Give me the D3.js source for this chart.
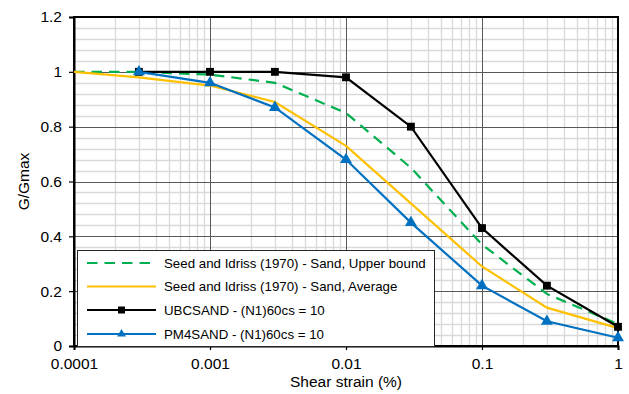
<!DOCTYPE html>
<html>
<head>
<meta charset="utf-8">
<script src="https://cdn.jsdelivr.net/npm/d3@7"></script>
<style>
  html, body { margin: 0; padding: 0; background: #fff; }
  svg { display: block; font-family: "Liberation Sans", Arial, sans-serif; }
</style>
</head>
<body>
<svg id="chart" width="629" height="394"></svg>
<script>
// Shear strain (%) at which each curve is defined
const strainSeed = [0.0001, 0.0003, 0.001, 0.003, 0.01, 0.03, 0.1, 0.3, 1];
const seedUpper = [1, 1, 0.99, 0.96, 0.85, 0.65, 0.37, 0.19, 0.08];
const seedAverage = [1, 0.98, 0.95, 0.89, 0.73, 0.52, 0.29, 0.14, 0.065];

const strainModel = [0.0003, 0.001, 0.003, 0.01, 0.03, 0.1, 0.3, 1];
const ubcsand = [1, 1, 1, 0.98, 0.80, 0.43, 0.22, 0.07];
const pm4sand = [1, 0.96, 0.87, 0.68, 0.45, 0.22, 0.09, 0.03];

const xTicks = [0.0001, 0.001, 0.01, 0.1, 1];
const xTickLabels = ["0.0001", "0.001", "0.01", "0.1", "1"];
const yTicks = [0, 0.2, 0.4, 0.6, 0.8, 1, 1.2];
const yTickLabels = ["0", "0.2", "0.4", "0.6", "0.8", "1", "1.2"];

const seriesNames = [
  "Seed and Idriss (1970) - Sand, Upper bound",
  "Seed and Idriss (1970) - Sand, Average",
  "UBCSAND - (N1)60cs = 10",
  "PM4SAND - (N1)60cs = 10"
];

const svg = d3.select("#chart");
const pLeft = 74, pRight = 618, pTop = 17, pBottom = 346;
const axisFont = "15.5px";

const x = d3.scaleLog().domain([0.0001, 1]).range([pLeft, pRight]);
const y = d3.scaleLinear().domain([0, 1.2]).range([pBottom, pTop]);

// minor grid
const minorX = [];
for (let d = -4; d < 0; d++) for (let m = 2; m <= 9; m++) minorX.push(m * Math.pow(10, d));
const minorY = d3.range(0, 1.2001, 0.04).filter(v => Math.abs(v / 0.2 - Math.round(v / 0.2)) > 1e-6);

const grid = svg.append("g");
grid.selectAll(".mx").data(minorX).join("line")
  .attr("x1", d => Math.round(x(d)) + 0.5).attr("x2", d => Math.round(x(d)) + 0.5)
  .attr("y1", pTop).attr("y2", pBottom)
  .attr("stroke", "#d9d9d9").attr("stroke-width", 1.3);
grid.selectAll(".my").data(minorY).join("line")
  .attr("y1", d => Math.round(y(d)) + 0.5).attr("y2", d => Math.round(y(d)) + 0.5)
  .attr("x1", pLeft).attr("x2", pRight)
  .attr("stroke", "#d9d9d9").attr("stroke-width", 1.3);
// major grid
grid.selectAll(".Mx").data(xTicks.slice(1, -1)).join("line")
  .attr("x1", d => Math.round(x(d)) + 0.5).attr("x2", d => Math.round(x(d)) + 0.5)
  .attr("y1", pTop).attr("y2", pBottom)
  .attr("stroke", "#595959").attr("stroke-width", 1);
grid.selectAll(".My").data(yTicks.slice(1, -1)).join("line")
  .attr("y1", d => Math.round(y(d)) + 0.5).attr("y2", d => Math.round(y(d)) + 0.5)
  .attr("x1", pLeft).attr("x2", pRight)
  .attr("stroke", "#595959").attr("stroke-width", 1);

// plot frame
svg.append("rect").attr("x", pLeft).attr("y", pTop)
  .attr("width", pRight - pLeft).attr("height", pBottom - pTop)
  .attr("fill", "none").attr("stroke", "#000").attr("stroke-width", 2);

// axes
const yAxis = svg.append("g").attr("transform", `translate(${pLeft},0)`)
  .call(d3.axisLeft(y).tickValues(yTicks).tickFormat((d, i) => yTickLabels[i]).tickSize(5).tickPadding(7));
const xAxis = svg.append("g").attr("transform", `translate(0,${pBottom})`)
  .call(d3.axisBottom(x).tickValues(xTicks).tickFormat((d, i) => xTickLabels[i]).tickSize(4).tickPadding(8));
[yAxis, xAxis].forEach(a => {
  a.select(".domain").attr("stroke", "#000").attr("stroke-width", 2);
  a.selectAll(".tick line").attr("stroke", "#000").attr("stroke-width", 1.2);
  a.selectAll(".tick text").attr("fill", "#000").style("font-size", axisFont)
    .style("font-family", "'Liberation Sans', Arial, sans-serif");
});

svg.append("text").attr("x", (pLeft + pRight) / 2).attr("y", 387)
  .attr("text-anchor", "middle").style("font-size", axisFont).text("Shear strain (%)");
svg.append("text").attr("transform", `translate(29,${(pTop + pBottom) / 2}) rotate(-90)`)
  .attr("text-anchor", "middle").style("font-size", axisFont).text("G/Gmax");

const line = d3.line().x(d => x(d[0])).y(d => y(d[1]));
const plot = svg.append("g");

const greenC = "#00b050", yellowC = "#ffc000", blackC = "#000000", blueC = "#0070c0";
const greenDash = "10.5,7";

plot.append("path").datum(d3.zip(strainSeed, seedUpper)).attr("d", line)
  .attr("fill", "none").attr("stroke", greenC).attr("stroke-width", 2.2).attr("stroke-dasharray", greenDash);
plot.append("path").datum(d3.zip(strainSeed, seedAverage)).attr("d", line)
  .attr("fill", "none").attr("stroke", yellowC).attr("stroke-width", 2.2);
plot.append("path").datum(d3.zip(strainModel, ubcsand)).attr("d", line)
  .attr("fill", "none").attr("stroke", blackC).attr("stroke-width", 2.2);
plot.append("path").datum(d3.zip(strainModel, pm4sand)).attr("d", line)
  .attr("fill", "none").attr("stroke", blueC).attr("stroke-width", 2.2);

const sq = d3.symbol().type(d3.symbolSquare).size(62);
const tri = d3.symbol().type(d3.symbolTriangle).size(62);
plot.selectAll(".ubc").data(d3.zip(strainModel, ubcsand)).join("path")
  .attr("d", sq).attr("transform", d => `translate(${x(d[0])},${y(d[1])})`).attr("fill", blackC);
plot.selectAll(".pm4").data(d3.zip(strainModel, pm4sand)).join("path")
  .attr("d", tri).attr("transform", d => `translate(${x(d[0])},${y(d[1])})`).attr("fill", blueC);

// legend
const lg = svg.append("g");
lg.append("rect").attr("x", 77.5).attr("y", 250.5).attr("width", 357).attr("height", 96)
  .attr("fill", "#fff").attr("stroke", "#262626").attr("stroke-width", 1);
const rowY = [263, 286.5, 310, 334];
const styles = [
  { c: greenC, dash: greenDash, marker: null },
  { c: yellowC, dash: null, marker: null },
  { c: blackC, dash: null, marker: d3.symbol().type(d3.symbolSquare).size(49) },
  { c: blueC, dash: null, marker: d3.symbol().type(d3.symbolTriangle).size(34) }
];
seriesNames.forEach((name, i) => {
  const s = styles[i];
  lg.append("line").attr("x1", 87).attr("x2", 156).attr("y1", rowY[i]).attr("y2", rowY[i])
    .attr("stroke", s.c).attr("stroke-width", 2.2).attr("stroke-dasharray", s.dash);
  if (s.marker) lg.append("path").attr("d", s.marker)
    .attr("transform", `translate(121.5,${rowY[i]})`).attr("fill", s.c);
  lg.append("text").attr("x", 164).attr("y", rowY[i]).attr("dy", "0.35em")
    .style("font-size", "13.3px").attr("fill", "#000").text(name);
});
</script>
</body>
</html>
